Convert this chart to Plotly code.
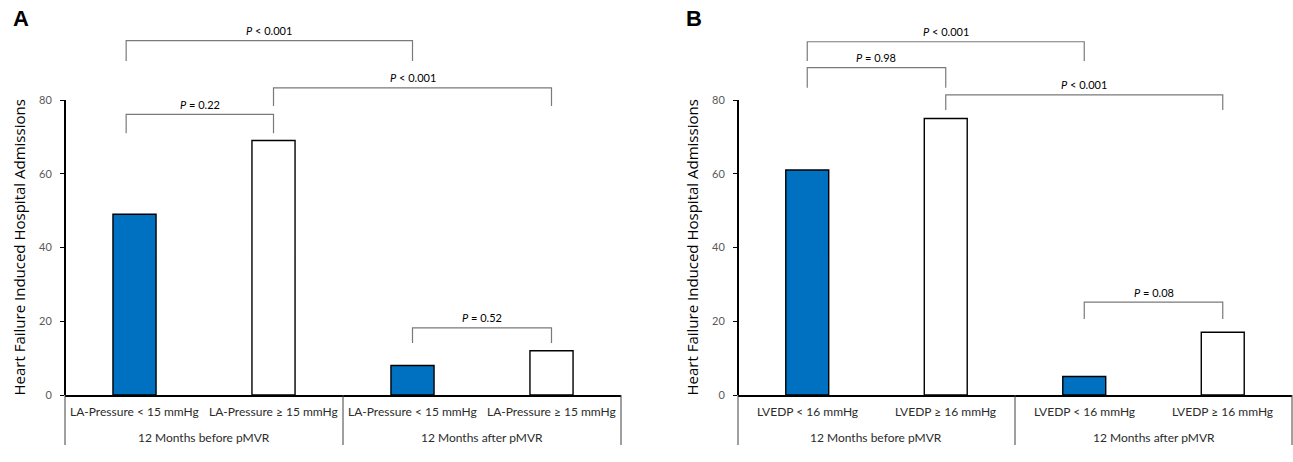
import plotly.graph_objects as go

# ---------------- data ----------------
categories_A = ["LA-Pressure < 15 mmHg", "LA-Pressure ≥ 15 mmHg",
                "LA-Pressure < 15 mmHg", "LA-Pressure ≥ 15 mmHg"]
categories_B = ["LVEDP < 16 mmHg", "LVEDP ≥ 16 mmHg",
                "LVEDP < 16 mmHg", "LVEDP ≥ 16 mmHg"]
groups = ["12 Months before pMVR", "12 Months after pMVR"]
values_A = [49, 69, 8, 12]
values_B = [61, 75, 5, 17]
y_ticks = [0, 20, 40, 60, 80]
y_title = "Heart Failure Induced Hospital Admissions"
panel_labels = ["A", "B"]

# brackets: (left idx, right idx, bar level, leg bottom, text)
brackets_A = [(-0.06, 2.0, 96.1, 90.6, "<i>P</i> &lt; 0.001"),
              (-0.06, 1.0, 76.1, 71.0, "<i>P</i> = 0.22"),
              (1.0, 3.0, 83.3, 78.4, "<i>P</i> &lt; 0.001"),
              (2.0, 3.0, 18.2, 14.1, "<i>P</i> = 0.52")]
brackets_B = [(0.0, 2.0, 95.8, 90.6, "<i>P</i> &lt; 0.001"),
              (0.0, 1.0, 88.8, 83.3, "<i>P</i> = 0.98"),
              (1.0, 3.0, 81.4, 77.3, "<i>P</i> &lt; 0.001"),
              (2.0, 3.0, 25.2, 20.6, "<i>P</i> = 0.08")]

# ---------------- style ----------------
W, H = 1293, 462
H_EFF = 456.0   # observed effective rendered height
BLUE = "#0070C0"
bar_colors = [BLUE, "#FFFFFF", BLUE, "#FFFFFF"]
y_dom = [1 - 395 / H_EFF, 1 - 26.25 / H_EFF]
x_doms = [[65 / W, 621 / W], [738 / W, 1292 / W]]
LABEL_FONT = dict(family="Lato, Carlito, Calibri, sans-serif", size=12, color="#2b2b2b")
P_FONT = dict(family="Lato, Carlito, Calibri, sans-serif", size=11, color="#000000")

fig = go.Figure()
layout = dict(width=W, height=H, margin=dict(l=0, r=0, t=0, b=0),
              paper_bgcolor="white", plot_bgcolor="white",
              showlegend=False, bargap=0.69)
shapes, annotations = [], []

panels = [(categories_A, values_A, brackets_A), (categories_B, values_B, brackets_B)]
for p, (cats, vals, brackets) in enumerate(panels):
    xa = "x" if p == 0 else "x2"
    ya = "y" if p == 0 else "y2"
    xkey = "xaxis" if p == 0 else "xaxis2"
    ykey = "yaxis" if p == 0 else "yaxis2"
    xs = list(range(len(cats)))
    fig.add_trace(go.Bar(x=xs, y=vals, xaxis=xa, yaxis=ya, width=0.31,
                         marker=dict(color=bar_colors,
                                     line=dict(color="#000000", width=1.4)),
                         hoverinfo="y"))
    layout[xkey] = dict(domain=x_doms[p], range=[-0.5, 3.5], showline=True,
                        linecolor="#000000", linewidth=2, showticklabels=False,
                        ticks="", showgrid=False, zeroline=False,
                        anchor=ya, fixedrange=True)
    layout[ykey] = dict(domain=y_dom, range=[0, 100], showline=False,
                        tickvals=y_ticks, ticks="outside", ticklen=4,
                        tickcolor="#000000", tickwidth=1, ticklabelstandoff=6,
                        tickfont=dict(family="Lato, Carlito, sans-serif", size=11,
                                      color="#595959"),
                        showgrid=False, zeroline=False, anchor=xa, fixedrange=True)
    # y axis line 0..80
    shapes.append(dict(type="line", xref=f"{xa} domain", yref=ya, x0=0, x1=0,
                       y0=0, y1=max(y_ticks), line=dict(color="#000000", width=2)))
    # category separators below axis
    for xd in [0, 0.5, 1]:
        shapes.append(dict(type="line", xref=f"{xa} domain", yref=f"{ya} domain",
                           ysizemode="pixel", yanchor=0, x0=xd, x1=xd, y0=0, y1=-50,
                           line=dict(color="#404040", width=1)))
    # category labels
    for i, c in enumerate(cats):
        annotations.append(dict(x=i, y=0, xref=xa, yref=ya, text=c, showarrow=False,
                                yanchor="middle", yshift=-16, font=LABEL_FONT))
    for g, name in enumerate(groups):
        annotations.append(dict(x=0.5 + 2 * g, y=0, xref=xa, yref=ya, text=name,
                                showarrow=False, yanchor="middle", yshift=-42,
                                font=LABEL_FONT))
    # brackets
    for (x0, x1, yb, yl, txt) in brackets:
        shapes.append(dict(type="path", xref=xa, yref=ya,
                           path=f"M {x0},{yl} L {x0},{yb} L {x1},{yb} L {x1},{yl}",
                           line=dict(color="#7a7a7a", width=1.2)))
        annotations.append(dict(x=(x0 + x1) / 2, y=yb, xref=xa, yref=ya, text=txt,
                                showarrow=False, yanchor="middle", yshift=10,
                                font=P_FONT))
    # y title
    annotations.append(dict(x=0, y=40, xref=f"{xa} domain", yref=ya, text=y_title,
                            textangle=-90, showarrow=False, xshift=-47,
                            xanchor="center", yanchor="middle",
                            font=dict(family="Open Sans, sans-serif", size=15,
                                      color="#000000")))
    # panel letter
    annotations.append(dict(x=0, y=1, xref=f"{xa} domain", yref="paper",
                            text=f"<b>{panel_labels[p]}</b>", showarrow=False,
                            xshift=-44, yshift=-18, xanchor="center", yanchor="middle",
                            font=dict(family="Liberation Sans, Arial, sans-serif",
                                      size=22, color="#000000")))

layout["shapes"] = shapes
layout["annotations"] = annotations
fig.update_layout(**layout)
fig.write_html("out.html")
